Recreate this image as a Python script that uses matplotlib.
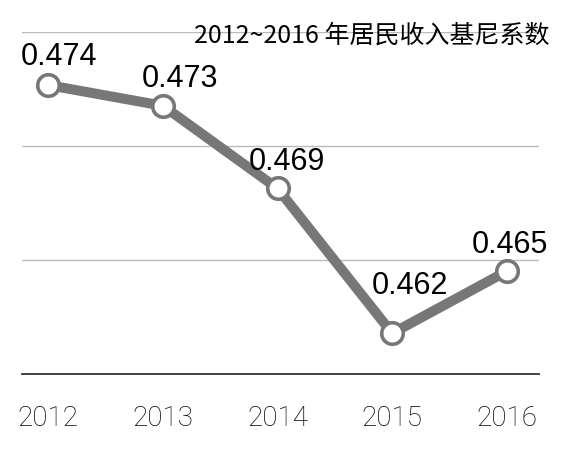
import matplotlib
matplotlib.use("Agg")
import matplotlib.pyplot as plt

years = ["2012", "2013", "2014", "2015", "2016"]
gini = [0.474, 0.473, 0.469, 0.462, 0.465]
labels = ["0.474", "0.473", "0.469", "0.462", "0.465"]
title = "2012~2016 年居民收入基尼系数"

fig = plt.figure(figsize=(5.77, 4.66), dpi=100)
ax = fig.add_axes([0.038, 0.197, 0.896, 0.734])

x = list(range(len(years)))
ax.plot(x, gini, color="#777777", lw=7.2, solid_joinstyle="miter", zorder=3,
        marker="o", markersize=15.5, markerfacecolor="white",
        markeredgecolor="#777777", markeredgewidth=2.6)

ymin, ymax = 0.46002, 0.47656
ax.set_ylim(ymin, ymax)
ax.set_xlim(-0.23, 4.28)
step = (ymax - ymin) / 3
for k in range(1, 4):
    ax.axhline(ymin + k * step, color="#bbbbbb", lw=1, zorder=1)

offsets = [(8, 20), (12, 19), (7, 19), (13, 34), (2, 19)]
for xi, yi, lab, off in zip(x, gini, labels, offsets):
    ax.annotate(lab, (xi, yi), xytext=off, textcoords="offset points",
                ha="center", va="center", fontsize=22,
                family="Liberation Sans", color="black", zorder=4)

ax.set_xticks(x)
ax.set_xticklabels(years, fontsize=20, family="Roboto", fontweight="light",
                   color="black")
ax.tick_params(axis="x", length=0, pad=22)
ax.set_yticks([])
for s in ["top", "left", "right"]:
    ax.spines[s].set_visible(False)
ax.spines["bottom"].set_color("#333333")
ax.spines["bottom"].set_linewidth(1.3)

fig.text(550 / 577, 1 - 36 / 466, title, ha="right", va="center",
         fontsize=18, family=["Noto Sans CJK SC", "DejaVu Sans"], color="black")

fig.savefig("out.png", dpi=100, facecolor="white")
